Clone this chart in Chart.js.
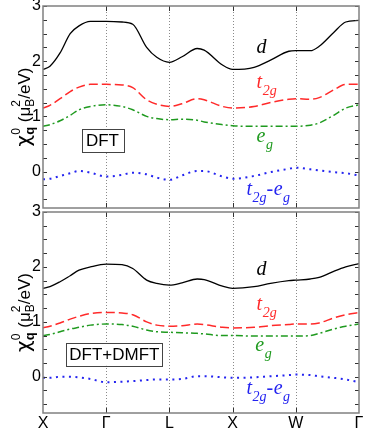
<!DOCTYPE html>
<html>
<head>
<meta charset="utf-8">
<script src="https://cdn.jsdelivr.net/npm/chart.js@4.4.0/dist/chart.umd.min.js"></script>
<style>
  html, body { margin: 0; padding: 0; background: #fff; }
  #wrap { position: relative; width: 366px; height: 430px; overflow: hidden; }
  canvas { position: absolute; left: 0; }
  #topChart { top: 0; }
  #botChart { top: 200px; }
</style>
</head>
<body>
<div id="wrap">
  <canvas id="topChart" width="366" height="210"></canvas>
  <canvas id="botChart" width="366" height="230"></canvas>
</div>
<script>
// k-path positions (X=0, Γ=1, L=2, X=3, W=4, Γ=5)
const qPath = [0, 0.11, 0.27, 0.43, 0.57, 0.75, 1, 1.25, 1.42, 1.64, 1.8, 2, 2.2, 2.44, 2.55, 2.84, 3, 3.34, 3.6, 3.89, 4, 4.23, 4.37, 4.6, 4.79, 5];
const pathLabels = ['X', 'Γ', 'L', 'X', 'W', 'Γ'];
const yLabels = [0, 1, 2, 3];

// DFT
const dftD    = [1.85, 1.91, 2.15, 2.5, 2.64, 2.72, 2.72, 2.71, 2.67, 2.25, 2.07, 1.98, 2.08, 2.23, 2.2, 1.93, 1.85, 1.89, 2.02, 2.18, 2.19, 2.19, 2.27, 2.52, 2.71, 2.74];
const dftT2g  = [1.15, 1.2, 1.32, 1.45, 1.53, 1.58, 1.58, 1.57, 1.52, 1.30, 1.22, 1.18, 1.23, 1.32, 1.30, 1.18, 1.15, 1.18, 1.25, 1.31, 1.32, 1.31, 1.34, 1.48, 1.58, 1.58];
const dftEg   = [0.82, 0.85, 0.92, 1.02, 1.12, 1.18, 1.21, 1.18, 1.12, 1.0, 0.96, 0.94, 0.95, 0.93, 0.90, 0.85, 0.83, 0.82, 0.82, 0.82, 0.82, 0.84, 0.88, 1.02, 1.15, 1.21];
const dftDiff = [-0.14, -0.13, -0.08, -0.03, 0.01, -0.02, -0.09, -0.06, -0.02, -0.05, -0.11, -0.15, -0.07, 0.01, 0.01, -0.09, -0.13, -0.08, -0.01, 0.05, 0.07, 0.04, 0.02, -0.01, -0.03, -0.07];

// DFT+DMFT
const dmftD    = [1.61, 1.64, 1.73, 1.84, 1.94, 2.0, 2.05, 2.04, 1.97, 1.76, 1.70, 1.67, 1.71, 1.78, 1.77, 1.65, 1.61, 1.64, 1.70, 1.75, 1.76, 1.78, 1.81, 1.92, 2.0, 2.06];
const dmftT2g  = [0.89, 0.92, 0.98, 1.05, 1.10, 1.15, 1.17, 1.16, 1.13, 1.0, 0.94, 0.92, 0.93, 0.96, 0.95, 0.90, 0.89, 0.90, 0.93, 0.95, 0.96, 0.96, 0.98, 1.07, 1.13, 1.17];
const dmftEg   = [0.75, 0.77, 0.82, 0.87, 0.90, 0.94, 0.96, 0.95, 0.92, 0.85, 0.82, 0.81, 0.80, 0.79, 0.78, 0.75, 0.75, 0.74, 0.74, 0.74, 0.74, 0.75, 0.79, 0.87, 0.92, 0.96];
const dmftDiff = [-0.02, -0.02, 0.0, 0.0, -0.01, -0.04, -0.10, -0.09, -0.08, -0.06, -0.05, -0.05, -0.04, 0.01, 0.01, -0.01, -0.02, -0.01, 0.01, 0.03, 0.04, 0.03, 0.01, -0.02, -0.05, -0.10];

const colD = '#000000', colT = '#ff2a2a', colE = '#1f9a1f', colX = '#2424f0';

function series(vals, color, dash, width) {
  return {
    data: qPath.map((q, i) => ({ x: q, y: vals[i] })),
    borderColor: color,
    borderWidth: width,
    borderDash: dash,
    pointRadius: 0,
    cubicInterpolationMode: 'monotone',
    fill: false
  };
}

// draws curve labels, panel box, frame, ticks and the y title
const decor = {
  id: 'decor',
  beforeDatasetsDraw(chart) {
    const { ctx, chartArea: a, scales: { x } } = chart;
    ctx.save();
    ctx.strokeStyle = '#8a8a8a';
    ctx.lineWidth = 1;
    ctx.setLineDash([1, 2]);
    for (let i = 1; i < 5; i++) {
      const px = Math.round(x.getPixelForValue(i)) + 0.5;
      ctx.beginPath(); ctx.moveTo(px, a.top); ctx.lineTo(px, a.bottom); ctx.stroke();
    }
    ctx.restore();
  },
  afterDraw(chart, args, o) {
    const { ctx, chartArea: a, scales: { x, y } } = chart;
    ctx.save();
    // ticks
    ctx.strokeStyle = '#333';
    ctx.lineWidth = 1;
    for (let v = -0.5; v <= 3.001; v += 0.25) {
      const py = Math.round(y.getPixelForValue(v)) + 0.5;
      ctx.beginPath();
      ctx.moveTo(a.left, py); ctx.lineTo(a.left + 4, py);
      ctx.moveTo(a.right, py); ctx.lineTo(a.right - 4, py);
      ctx.stroke();
    }
    for (let i = 1; i < 5; i++) {
      const px = Math.round(x.getPixelForValue(i)) + 0.5;
      ctx.beginPath();
      ctx.moveTo(px, a.top); ctx.lineTo(px, a.top + 5);
      ctx.moveTo(px, a.bottom); ctx.lineTo(px, a.bottom - 5);
      ctx.stroke();
    }
    // frame
    ctx.strokeStyle = '#808080';
    ctx.lineWidth = 1.5;
    ctx.strokeRect(a.left, a.top, a.right - a.left, a.bottom - a.top);

    // curve labels
    o.labels.forEach(l => {
      let px = x.getPixelForValue(l.x);
      const py = y.getPixelForValue(l.y);
      ctx.fillStyle = l.color;
      ctx.textBaseline = 'alphabetic';
      ctx.textAlign = 'left';
      l.parts.forEach(p => {
        ctx.font = p[1] ? 'italic 14px "Liberation Serif"' : 'italic 20px "Liberation Serif"';
        ctx.fillText(p[0], px, py + (p[1] ? 7 : 0));
        px += ctx.measureText(p[0]).width + (p[1] ? 0 : 0.5);
      });
    });

    // panel box
    const b = o.box;
    const bx0 = x.getPixelForValue(b.x0), bx1 = x.getPixelForValue(b.x1);
    const by0 = y.getPixelForValue(b.y0), by1 = y.getPixelForValue(b.y1);
    ctx.fillStyle = '#fff';
    ctx.fillRect(bx0, by0, bx1 - bx0, by1 - by0);
    ctx.strokeStyle = '#444';
    ctx.lineWidth = 1;
    ctx.strokeRect(Math.round(bx0) + 0.5, Math.round(by0) + 0.5, Math.round(bx1 - bx0), Math.round(by1 - by0));
    ctx.fillStyle = '#000';
    ctx.font = '17px "Liberation Sans"';
    ctx.textAlign = 'center';
    ctx.textBaseline = 'middle';
    ctx.fillText(b.text, (bx0 + bx1) / 2, (by0 + by1) / 2 + 1);

    // y title: χ^0_q (μ_B^2/eV)
    const big = '17px "Liberation Sans"', chi = '20px "DejaVu Sans"';
    const small = '12px "Liberation Sans"', smallB = 'bold 13px "Liberation Sans"';
    const pieces = [
      ['χ', chi, 0], ['0', small, -10, true], ['q', smallB, 4],
      [' (μ', big, 0], ['2', small, -10, true], ['B', small, 4],
      ['/eV)', big, 0]
    ];
    let w = 0;
    pieces.forEach(p => { ctx.font = p[1]; if (!p[3]) w += ctx.measureText(p[0]).width; });
    ctx.translate(29.5, (a.top + a.bottom) / 2);
    ctx.rotate(-Math.PI / 2);
    ctx.textAlign = 'left';
    ctx.textBaseline = 'alphabetic';
    let tx = -w / 2;
    pieces.forEach(p => {
      ctx.font = p[1];
      ctx.fillText(p[0], tx, p[2]);
      if (!p[3]) tx += ctx.measureText(p[0]).width;
    });
    ctx.restore();
  }
};

function makeChart(id, vals, showX, padTop, opts) {
  return new Chart(document.getElementById(id), {
    type: 'line',
    data: {
      datasets: [
        series(vals[0], colD, [], 1.3),
        series(vals[1], colT, [9, 4], 1.5),
        series(vals[2], colE, [7, 3, 2, 3], 1.5),
        series(vals[3], colX, [2, 4.5], 2)
      ]
    },
    options: {
      responsive: false,
      animation: false,
      events: [],
      layout: { padding: { top: padTop, right: 7, bottom: showX ? 0 : 2, left: 0 } },
      plugins: { legend: { display: false }, tooltip: { enabled: false }, decor: opts },
      scales: {
        x: {
          type: 'linear', min: 0, max: 5,
          display: showX,
          grid: { display: false, drawTicks: false },
          border: { display: false },
          ticks: {
            stepSize: 1, autoSkip: false, maxRotation: 0, padding: 1,
            color: '#000', font: { family: 'Liberation Sans', size: 16 },
            callback: v => pathLabels[Math.round(v)] || ''
          },
          afterFit: s => { s.height = showX ? 17 : 0; s.paddingLeft = 0; s.paddingRight = 0; }
        },
        y: {
          min: -0.66, max: 3,
          grid: { display: false, drawTicks: false },
          border: { display: false },
          ticks: {
            stepSize: 1, autoSkip: false, padding: 2,
            color: '#000', font: { family: 'Liberation Sans', size: 16 },
            callback: v => yLabels.includes(v) ? String(v) : ''
          },
          afterFit: s => { s.width = 43; s.paddingTop = 0; s.paddingBottom = 0; }
        }
      }
    },
    plugins: [decor]
  });
}

makeChart('topChart', [dftD, dftT2g, dftEg, dftDiff], false, 6, {
  box: { x0: 0.61, x1: 1.27, y0: 0.77, y1: 0.35, text: 'DFT' },
  labels: [
    { x: 3.38, y: 2.15, color: colD, parts: [['d', false]] },
    { x: 3.38, y: 1.52, color: colT, parts: [['t', false], ['2g', true]] },
    { x: 3.38, y: 0.54, color: colE, parts: [['e', false], ['g', true]] },
    { x: 3.22, y: -0.42, color: colX, parts: [['t', false], ['2g', true], ['-', false], ['e', false], ['g', true]] }
  ]
});

makeChart('botChart', [dmftD, dmftT2g, dmftEg, dmftDiff], true, 12, {
  box: { x0: 0.37, x1: 1.89, y0: 0.61, y1: 0.2, text: 'DFT+DMFT' },
  labels: [
    { x: 3.38, y: 1.85, color: colD, parts: [['d', false]] },
    { x: 3.38, y: 1.22, color: colT, parts: [['t', false], ['2g', true]] },
    { x: 3.36, y: 0.46, color: colE, parts: [['e', false], ['g', true]] },
    { x: 3.22, y: -0.32, color: colX, parts: [['t', false], ['2g', true], ['-', false], ['e', false], ['g', true]] }
  ]
});
</script>
</body>
</html>
